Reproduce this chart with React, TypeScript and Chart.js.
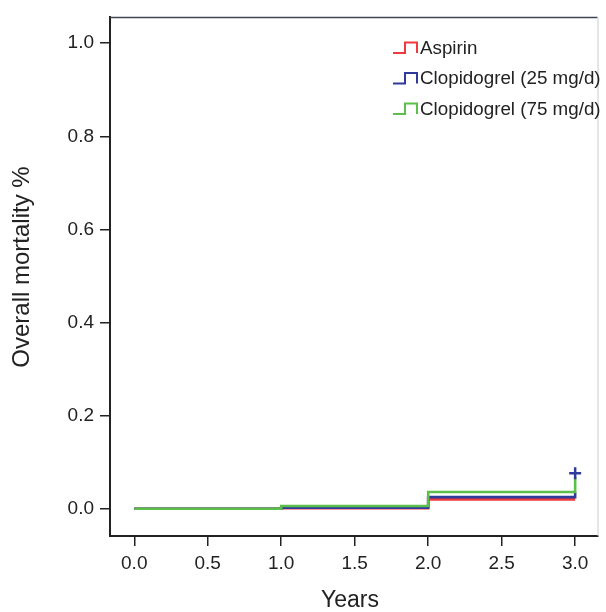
import React, { useEffect, useRef } from "react";
import { Chart, registerables } from "chart.js";

Chart.register(...registerables);

const seriesNames = ["Aspirin", "Clopidogrel (25 mg/d)", "Clopidogrel (75 mg/d)"];
const seriesColors = ["#ee3a3f", "#2f3a9a", "#5bbf4a"];
const times = [0, 1, 2, 3];
const aspirin = [0, 0.001, 0.02, 0.02];
const clopi25 = [0, 0.002, 0.025, 0.035];
const clopi75 = [0, 0.006, 0.036, 0.068];
const censorTimes = [3];
const censorValues = [0.076];
const xTicks = [0, 0.5, 1, 1.5, 2, 2.5, 3];
const yTicks = [0, 0.2, 0.4, 0.6, 0.8, 1.0];
const xTitle = "Years";
const yTitle = "Overall mortality %";

const FONT = "'Liberation Sans', Arial, Helvetica, sans-serif";

export default function App() {
  const ref = useRef<HTMLCanvasElement | null>(null);

  useEffect(() => {
    if (!ref.current) return;
    const seriesValues = [aspirin, clopi25, clopi75];
    const datasets: any[] = seriesValues.map((vals, i) => ({
      type: "line",
      label: seriesNames[i],
      data: times.map((t, j) => ({ x: t, y: vals[j] })),
      borderColor: seriesColors[i],
      borderWidth: 2.6,
      stepped: "before",
      pointRadius: 0,
      fill: false,
      order: 3 - i,
    }));
    datasets.push({
      type: "scatter",
      label: "censor",
      data: censorTimes.map((t, j) => ({ x: t, y: censorValues[j] })),
      pointStyle: "cross",
      pointRadius: 6,
      borderColor: seriesColors[1],
      backgroundColor: seriesColors[1],
      borderWidth: 2.5,
      order: 0,
    });

    const framePlugin = {
      id: "frame",
      afterDraw(chart: any) {
        const { ctx, chartArea } = chart;
        ctx.save();
        ctx.strokeStyle = "#3c4650";
        ctx.lineWidth = 1.5;
        ctx.beginPath();
        ctx.moveTo(chartArea.left, chartArea.top);
        ctx.lineTo(chartArea.right, chartArea.top);
        ctx.stroke();
        ctx.strokeStyle = "#c8ccd0";
        ctx.lineWidth = 1;
        ctx.beginPath();
        ctx.moveTo(chartArea.right + 0.5, chartArea.top);
        ctx.lineTo(chartArea.right + 0.5, chartArea.bottom);
        ctx.stroke();

        ctx.fillStyle = "#222";
        ctx.font = `23px ${FONT}`;
        ctx.textAlign = "center";
        ctx.textBaseline = "middle";
        ctx.fillText(xTitle, 350, 601);
        ctx.save();
        ctx.translate(22, 267);
        ctx.rotate(-Math.PI / 2);
        ctx.font = `24px ${FONT}`;
        ctx.fillText(yTitle, 0, 0);
        ctx.restore();

        ctx.font = `18.8px ${FONT}`;
        ctx.textAlign = "left";
        ctx.textBaseline = "middle";
        seriesNames.forEach((name, i) => {
          const cy = 47.5 + i * 30.5;
          ctx.strokeStyle = seriesColors[i];
          ctx.lineWidth = 2;
          ctx.beginPath();
          ctx.moveTo(393, cy + 5.5);
          ctx.lineTo(405, cy + 5.5);
          ctx.lineTo(405, cy - 5);
          ctx.lineTo(417, cy - 5);
          ctx.lineTo(417, cy + 5.5);
          ctx.stroke();
          ctx.fillStyle = "#222";
          ctx.fillText(name, 420, cy + 1);
        });
        ctx.restore();
      },
    };

    const chart = new Chart(ref.current, {
      type: "line",
      data: { datasets },
      options: {
        animation: false,
        responsive: false,
        devicePixelRatio: 1,
        layout: { padding: { top: 13, right: 1, left: 0, bottom: 0 } },
        plugins: { legend: { display: false }, tooltip: { enabled: false } },
        scales: {
          x: {
            type: "linear",
            min: -0.165,
            max: 3.152,
            afterFit: (s: any) => {
              s.height = 76;
            },
            afterBuildTicks: (s: any) => {
              s.ticks = xTicks.map((v) => ({ value: v }));
            },
            ticks: {
              color: "#222",
              font: { family: FONT, size: 19 },
              padding: 6,
              maxRotation: 0,
              autoSkip: false,
              callback: (v: any) => Number(v).toFixed(1),
            },
            grid: {
              drawOnChartArea: false,
              drawTicks: true,
              tickLength: 10,
              color: "#222",
              lineWidth: 1.5,
            },
            border: { display: true, color: "#222", width: 2 },
          },
          y: {
            type: "linear",
            min: -0.0586,
            max: 1.0554,
            afterFit: (s: any) => {
              s.width = 110;
            },
            afterBuildTicks: (s: any) => {
              s.ticks = yTicks.map((v) => ({ value: v }));
            },
            ticks: {
              color: "#222",
              font: { family: FONT, size: 19 },
              padding: 6,
              autoSkip: false,
              callback: (v: any) => Number(v).toFixed(1),
            },
            grid: {
              drawOnChartArea: false,
              drawTicks: true,
              tickLength: 10,
              color: "#222",
              lineWidth: 1.5,
            },
            border: { display: true, color: "#222", width: 2 },
          },
        },
      },
      plugins: [framePlugin],
    });
    return () => chart.destroy();
  }, []);

  return (
    <div style={{ position: "absolute", left: 0, top: 0, width: 606, height: 612, background: "#fff" }}>
      <canvas ref={ref} width={606} height={612} style={{ display: "block", width: 606, height: 612 }} />
    </div>
  );
}
